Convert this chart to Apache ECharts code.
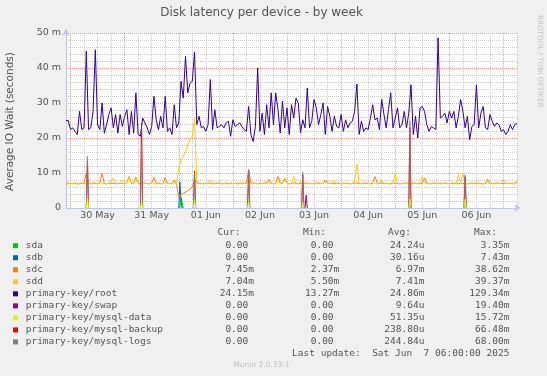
<!DOCTYPE html>
<html>
<head>
<meta charset="utf-8">
<title>Disk latency per device - by week</title>
<script src="https://cdn.jsdelivr.net/npm/echarts@6/dist/echarts.min.js"></script>
<style>
  html, body { margin: 0; padding: 0; background: #f0f0f0; }
  #chart { width: 547px; height: 376px; }
</style>
</head>
<body>
<div id="chart"></div>
<script>
// hours are counted from 30 May 00:00, the view runs from -2 h to 198 h (half hour slots)
const firstHour = -2
const slotCount = 401
const dayLabels = ['30 May', '31 May', '01 Jun', '02 Jun', '03 Jun', '04 Jun', '05 Jun', '06 Jun']
const yTicks = [0, 10, 20, 30, 40, 50]

// hourly values (milliseconds), hour -2 .. 198
const rootData = [
  25.0, 25.0, 22.4, 22.9, 21.9, 21.0, 27.6, 22.4, 22.9, 44.8, 22.4, 22.9,
  27.6, 45.2, 23.8, 22.4, 30.0, 21.4, 23.8, 26.7, 28.6, 22.9, 26.7, 21.4,
  26.7, 23.3, 26.2, 28.1, 21.0, 27.6, 21.4, 32.9, 21.0, 20.5, 25.7, 24.3,
  22.9, 21.0, 23.3, 31.9, 25.2, 22.4, 26.2, 22.9, 31.9, 21.9, 22.9, 21.0,
  29.5, 22.9, 24.3, 36.2, 31.4, 43.3, 32.9, 35.7, 36.2, 44.6, 23.8, 26.2,
  22.9, 23.3, 21.9, 23.8, 36.7, 22.4, 28.1, 22.9, 23.3, 23.8, 22.9, 24.3,
  24.8, 20.5, 25.2, 23.3, 23.8, 24.3, 23.3, 22.4, 21.9, 29.0, 21.0, 19.0,
  23.3, 40.0, 21.9, 27.1, 21.0, 29.5, 22.9, 32.9, 23.8, 32.9, 28.1, 21.4,
  30.5, 22.9, 28.6, 21.0, 29.5, 25.7, 31.4, 30.0, 21.5, 25.2, 22.9, 34.3,
  22.9, 24.8, 31.0, 28.6, 23.8, 26.7, 30.0, 21.0, 29.0, 26.2, 21.9, 26.2,
  23.3, 22.9, 26.7, 21.9, 25.2, 22.9, 24.3, 24.8, 27.6, 35.4, 21.0, 24.8,
  21.9, 22.9, 22.4, 25.7, 29.5, 25.2, 25.7, 22.4, 31.0, 26.7, 22.9, 28.1,
  32.9, 22.9, 25.7, 28.6, 22.9, 23.8, 27.6, 22.9, 27.1, 35.2, 21.0, 26.2,
  20.0, 28.6, 29.0, 27.6, 23.8, 21.9, 23.3, 22.9, 22.4, 48.6, 25.7, 26.2,
  27.1, 24.3, 27.6, 25.7, 27.6, 22.9, 26.2, 31.0, 27.6, 22.9, 26.2, 19.5,
  23.3, 23.8, 35.2, 22.9, 27.1, 29.0, 22.9, 22.4, 26.7, 24.8, 23.3, 24.3,
  23.8, 21.9, 22.4, 21.0, 21.9, 23.8, 22.4, 23.8, 24.2
]
const sddData = [
  7.0, 7.2, 6.9, 7.1, 7.0, 6.8, 7.2, 7.0, 7.3, 7.0, 6.9, 7.1,
  7.0, 7.2, 6.9, 7.4, 7.0, 7.1, 6.9, 7.2, 7.6, 8.6, 7.0, 6.9,
  7.2, 8.0, 7.0, 7.1, 9.0, 7.2, 7.0, 8.5, 7.1, 6.9, 7.2, 7.0,
  7.1, 6.9, 7.3, 7.0, 6.8, 7.2, 7.1, 7.0, 7.3, 6.9, 7.1, 7.0,
  7.2, 7.0, 11.4, 13.8, 14.7, 16.2, 18.1, 19.5, 20.5, 25.7, 7.5, 7.1,
  6.9, 7.2, 7.0, 7.1, 8.0, 7.0, 6.9, 7.2, 7.0, 7.1, 6.9, 7.2,
  7.0, 7.1, 6.9, 7.0, 7.2, 7.1, 6.9, 7.0, 7.2, 7.5, 7.0, 6.9,
  7.1, 7.0, 7.2, 6.9, 7.1, 7.3, 7.0, 7.1, 6.9, 7.2, 7.4, 7.0,
  7.1, 8.0, 7.0, 6.9, 7.2, 9.0, 7.0, 7.1, 7.3, 6.9, 7.0, 7.2,
  7.0, 6.9, 7.1, 7.0, 7.2, 6.9, 7.1, 7.3, 7.0, 7.1, 6.9, 8.0,
  7.0, 7.2, 6.9, 7.1, 7.0, 7.2, 6.9, 7.1, 7.4, 12.6, 7.0, 7.1,
  6.9, 7.2, 7.0, 7.1, 7.3, 7.0, 6.9, 7.2, 8.0, 7.0, 7.1, 6.9,
  7.2, 7.0, 9.8, 7.1, 6.9, 7.0, 7.2, 7.1, 6.9, 7.0, 7.2, 7.1,
  6.9, 7.2, 9.0, 7.1, 7.0, 6.9, 7.2, 7.0, 7.1, 6.9, 7.2, 7.0,
  7.1, 6.9, 7.0, 7.2, 7.1, 6.9, 9.5, 7.2, 9.8, 7.0, 6.9, 7.1,
  7.0, 7.2, 6.9, 7.1, 7.0, 6.8, 7.2, 7.1, 6.9, 7.0, 7.2, 6.9,
  7.1, 7.0, 8.0, 7.2, 6.9, 7.1, 7.0, 7.2, 7.0
]
const sdcData = [
  6.8, 7.0, 7.1, 6.9, 7.2, 7.0, 6.9, 7.1, 7.0, 10.0, 7.1, 6.9,
  7.2, 7.0, 6.9, 7.1, 10.0, 7.0, 6.9, 7.2, 7.0, 7.1, 6.9, 7.0,
  7.1, 7.0, 6.9, 7.2, 9.0, 7.0, 7.1, 8.8, 7.0, 6.9, 7.2, 7.1,
  7.0, 6.9, 7.2, 8.6, 7.0, 7.1, 6.9, 7.0, 8.6, 7.1, 7.0, 6.9,
  8.0, 6.8, 3.3, 3.8, 4.2, 4.6, 5.0, 5.4, 6.0, 8.0, 7.2, 7.0,
  7.1, 6.9, 7.0, 7.2, 7.0, 6.9, 7.1, 7.0, 7.2, 6.9, 7.0, 7.1,
  6.9, 7.2, 7.0, 7.1, 6.9, 7.0, 7.2, 7.0, 7.1, 11.0, 7.0, 7.2,
  7.0, 6.9, 7.1, 7.0, 7.2, 7.0, 8.2, 7.1, 6.9, 7.0, 9.0, 7.2,
  7.0, 8.4, 7.1, 6.9, 7.0, 7.2, 7.1, 6.9, 7.0, 7.1, 7.2, 6.9,
  7.1, 7.0, 6.9, 7.2, 7.0, 7.1, 6.9, 8.0, 7.1, 7.0, 7.2, 6.9,
  7.1, 7.0, 6.9, 7.2, 7.0, 7.1, 6.9, 7.0, 7.2, 7.1, 7.0, 6.9,
  7.2, 7.0, 7.1, 6.9, 7.0, 9.0, 7.1, 7.0, 7.2, 6.9, 7.1, 7.0,
  6.9, 7.2, 7.0, 7.1, 6.9, 7.0, 7.2, 7.1, 7.0, 6.9, 7.2, 7.0,
  7.1, 6.9, 7.0, 8.6, 7.1, 7.0, 6.9, 7.2, 7.0, 7.1, 6.9, 7.0,
  7.2, 7.0, 6.9, 7.1, 7.0, 7.2, 6.9, 7.1, 7.0, 7.2, 6.9, 7.0,
  7.1, 6.9, 7.2, 7.0, 7.1, 6.9, 7.0, 8.2, 7.1, 7.0, 6.9, 7.2,
  7.0, 7.1, 6.9, 7.2, 7.0, 7.1, 6.9, 7.2, 7.45
]
// short spikes: [hour, value]; everywhere else the series is 0
const sdaSpikes = [[49, 3.0], [49.5, 1.5]]
const sdbSpikes = [[48.5, 7.4], [49, 2.0]]
const swapSpikes = [[104.5, 3.7]]
const mysqlDataSpikes = [[7.5, 3.0], [31.5, 2.0], [55, 2.5], [79, 2.0], [103, 1.5], [150.5, 2.5], [175, 2.5]]
const mysqlBackupSpikes = [[7.5, 13.5], [31.5, 24.3], [55, 10.6], [79, 10.5], [103, 9.5], [150.5, 23.0], [175, 9.0]]
const mysqlLogsSpikes = [[7.5, 14.8], [31.5, 18.0], [55, 10.0], [79, 11.0], [103, 10.3], [150.5, 25.0], [175, 9.5]]

// legend table
const seriesNames = ['sda', 'sdb', 'sdc', 'sdd', 'primary-key/root', 'primary-key/swap',
  'primary-key/mysql-data', 'primary-key/mysql-backup', 'primary-key/mysql-logs']
const seriesColors = ['#00CC00', '#0066B3', '#FF8000', '#FFCC00', '#330099', '#990099',
  '#CCFF00', '#FF0000', '#808080']
const curValues = ['0.00', '0.00', '7.45m', '7.04m', '24.15m', '0.00', '0.00', '0.00', '0.00']
const minValues = ['0.00', '0.00', '2.37m', '5.50m', '13.27m', '0.00', '0.00', '0.00', '0.00']
const avgValues = ['24.24u', '30.16u', '6.97m', '7.41m', '24.86m', '9.64u', '51.35u', '238.80u', '244.84u']
const maxValues = ['3.35m', '7.43m', '38.62m', '39.37m', '129.34m', '19.40m', '15.72m', '66.48m', '68.00m']
const lastUpdate = 'Last update:  Sat Jun  7 06:00:00 2025'

const slotHour = i => i / 2 + firstHour
const slotOf = h => Math.round((h - firstHour) * 2)
const mod = (a, b) => ((a % b) + b) % b

const categories = []
for (let i = 0; i < slotCount; i++) {
  const h = slotHour(i)
  const isNoon = Number.isInteger(h) && h >= 12 && mod(h - 12, 24) === 0
  categories.push(isNoon ? dayLabels[(h - 12) / 24] : '')
}
const isMidnight = i => Number.isInteger(slotHour(i)) && mod(slotHour(i), 24) === 0
const isSixHour = i => Number.isInteger(slotHour(i)) && mod(slotHour(i), 6) === 0 && !isMidnight(i)

function hourly(values) {
  return values.map((v, k) => [slotOf(firstHour + k), v])
}
function spikes(list) {
  const arr = new Array(slotCount).fill(null)
  list.forEach(([h, v]) => {
    const i = slotOf(h)
    arr[i] = v
    if (i > 0 && arr[i - 1] === null) arr[i - 1] = 0
    if (i < slotCount - 1 && arr[i + 1] === null) arr[i + 1] = 0
  })
  return arr
}

function line(idx, data, extra) {
  return Object.assign({
    name: seriesNames[idx],
    type: 'line',
    symbol: 'none',
    silent: true,
    connectNulls: false,
    lineStyle: { color: seriesColors[idx], width: 1 },
    itemStyle: { color: seriesColors[idx] },
    data: data
  }, extra || {})
}

const sans = 'DejaVu Sans, sans-serif'
const mono = 'DejaVu Sans Mono, monospace'
const textColor = '#555555'
const majorGrid = 'rgba(255,0,0,0.4)'
const minorGrid = '#cccccc'

// legend drawn as text rows
const legendGraphics = []
const rowY0 = 245.7
const rowStep = 12.03
const headers = [['Cur:', 240.5], ['Min:', 326], ['Avg:', 411], ['Max:', 497]]
headers.forEach(([t, x]) => {
  legendGraphics.push({ type: 'text', x: x, y: 233, style: { text: t, font: '9.5px ' + mono, fill: textColor, align: 'right', verticalAlign: 'middle' } })
})
const colRight = [254, 339.3, 424.4, 509.4]
seriesNames.forEach((name, k) => {
  const y = rowY0 + rowStep * k
  legendGraphics.push({ type: 'rect', shape: { x: 13, y: y - 2.5, width: 5, height: 5 }, style: { fill: seriesColors[k] } })
  legendGraphics.push({ type: 'text', x: 25.7, y: y, style: { text: name, font: '9.5px ' + mono, fill: textColor, align: 'left', verticalAlign: 'middle' } })
  ;[curValues, minValues, avgValues, maxValues].forEach((col, c) => {
    let v = col[k]
    if (!/[mu]$/.test(v)) v = v + ' '
    legendGraphics.push({ type: 'text', x: colRight[c], y: y, style: { text: v, font: '9.5px ' + mono, fill: textColor, align: 'right', verticalAlign: 'middle' } })
  })
})
legendGraphics.push({ type: 'text', x: 509.4, y: 353.3, style: { text: lastUpdate, font: '9.5px ' + mono, fill: textColor, align: 'right', verticalAlign: 'middle' } })

const chart = echarts.init(document.getElementById('chart'), null, { renderer: 'canvas' })
chart.setOption({
  animation: false,
  backgroundColor: '#f0f0f0',
  grid: {
    left: 66, right: 30, top: 33, bottom: 168,
    show: true, backgroundColor: '#ffffff', borderWidth: 0
  },
  xAxis: [{
    type: 'category',
    data: categories,
    boundaryGap: false,
    axisLine: { show: true, lineStyle: { color: '#c0c4ee', width: 1 }, symbol: ['none', 'arrow'], symbolSize: [6, 7], symbolOffset: [0, 4] },
    axisTick: { show: false },
    axisLabel: {
      interval: (i, v) => v !== '',
      margin: 3,
      color: textColor,
      fontSize: 9.5,
      fontFamily: sans
    },
    splitLine: {
      show: true,
      interval: (i) => isMidnight(i),
      lineStyle: { color: majorGrid, width: 1, type: [1, 1] }
    }
  }, {
    type: 'category',
    data: categories,
    boundaryGap: false,
    position: 'top',
    axisLine: { show: false },
    axisTick: { show: false },
    axisLabel: { show: false },
    splitLine: {
      show: true,
      interval: (i) => isSixHour(i),
      lineStyle: { color: minorGrid, width: 1, type: [1, 1] }
    }
  }],
  yAxis: {
    type: 'value',
    min: yTicks[0],
    max: yTicks[yTicks.length - 1],
    interval: yTicks[1] - yTicks[0],
    axisLine: { show: true, lineStyle: { color: '#c0c4ee', width: 1 }, symbol: ['none', 'arrow'], symbolSize: [6, 7], symbolOffset: [0, 4] },
    axisTick: { show: false },
    axisLabel: {
      margin: 5,
      color: textColor,
      fontSize: 9.5,
      fontFamily: sans,
      formatter: v => (v === 0 ? '0' : v + ' m')
    },
    splitLine: { show: true, lineStyle: { color: majorGrid, width: 1, type: [1, 1] } },
    minorTick: { show: false, splitNumber: 5 },
    minorSplitLine: { show: true, lineStyle: { color: minorGrid, width: 1, type: [1, 1] } }
  },
  series: [
    line(0, spikes(sdaSpikes)),
    line(1, spikes(sdbSpikes)),
    line(2, hourly(sdcData)),
    line(3, hourly(sddData)),
    line(4, hourly(rootData)),
    line(5, spikes(swapSpikes)),
    line(7, spikes(mysqlBackupSpikes)),
    line(8, spikes(mysqlLogsSpikes), { lineStyle: { color: seriesColors[8], width: 1, opacity: 0.75 } }),
    line(6, spikes(mysqlDataSpikes), { z: 3 })
  ],
  graphic: [
    { type: 'text', x: 261.5, y: 13.3, style: { text: 'Disk latency per device - by week', font: '12px ' + sans, fill: textColor, align: 'center', verticalAlign: 'middle' } },
    { type: 'text', x: 10, y: 121.5, rotation: Math.PI / 2, style: { text: 'Average IO Wait (seconds)', font: '10.5px ' + sans, fill: textColor, align: 'center', verticalAlign: 'middle' } },
    { type: 'text', x: 540, y: 15, rotation: -Math.PI / 2, style: { text: 'RRDTOOL / TOBI OETIKER', font: '7.2px ' + sans, fill: '#c4c4c4', align: 'left', verticalAlign: 'middle' } },
    { type: 'text', x: 261.5, y: 365.3, style: { text: 'Munin 2.0.33-1', font: '7.5px ' + sans, fill: '#c0c0c0', align: 'center', verticalAlign: 'middle' } }
  ].concat(legendGraphics)
})
</script>
</body>
</html>
